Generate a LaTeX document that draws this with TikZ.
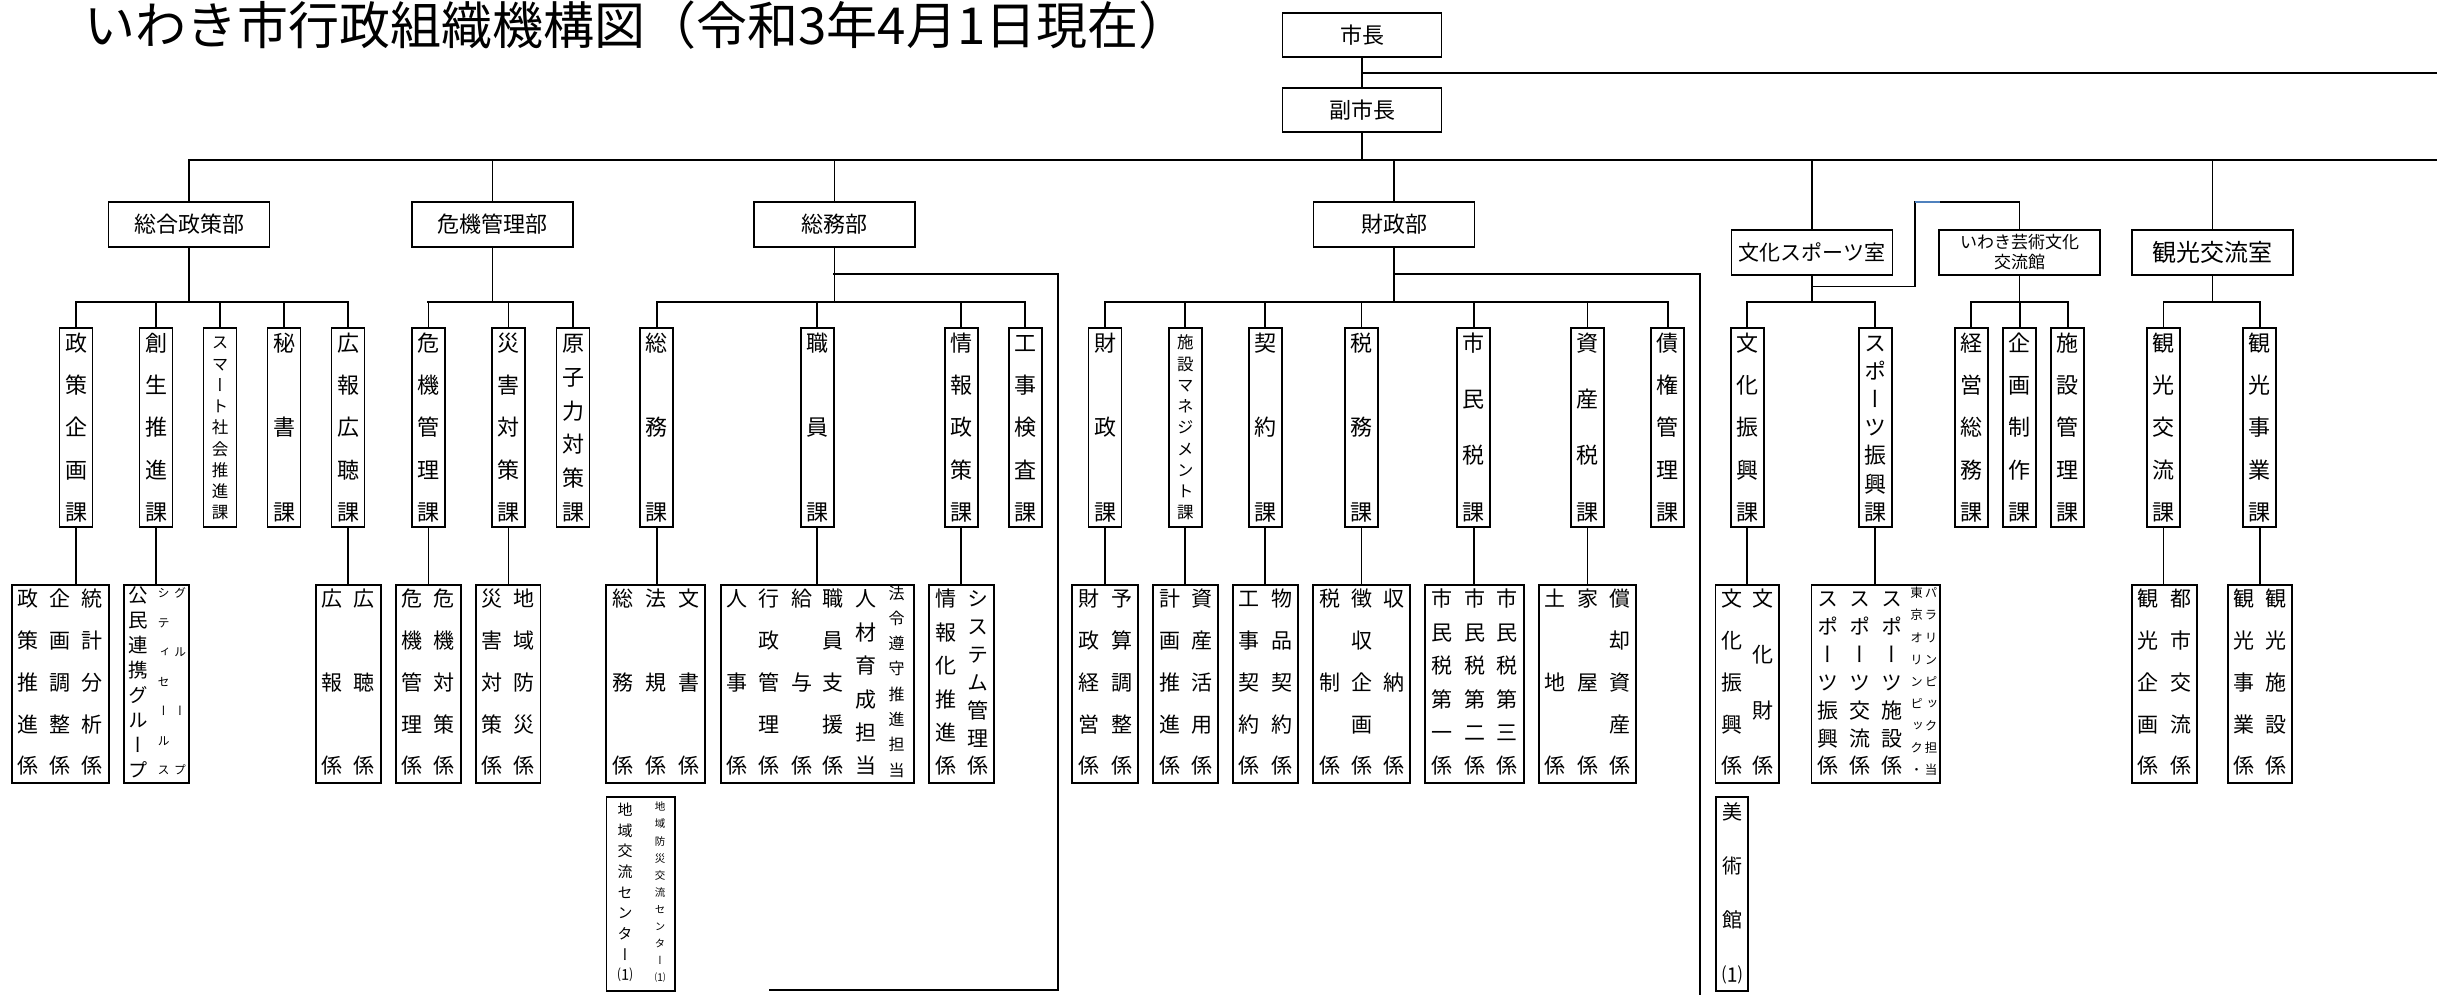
\documentclass[tikz,border=0pt]{standalone}
\usepackage{fontspec}
\setmainfont{Noto Sans CJK JP}
\newfontfamily\vfont[RawFeature=+vert]{Noto Sans CJK JP}
\definecolor{selblue}{RGB}{79,129,189}
% vertical column of characters, evenly distributed over a span (pt) between first and last centres
\newcommand\vcol[2][167]{\vbox to \dimexpr#1pt+0.88em\relax{\offinterlineskip\foreach \c [count=\i] in {#2}{\ifnum\i>1 \vfill\fi\hbox to 1em{\hss\vrule width0pt height0.88em depth0.12em\smash{\c}\hss}}}}
\newcommand\vk[1]{\vcol[168.6]{#1}}
\newcommand\kbox[3]{\node[bx, minimum width={#3-#2}, minimum height=198] (#1) at ({(#2+#3)/2},684) {};}
\newcommand\xbox[5]{\node[bx, minimum width={#3-#2}, minimum height={#5-#4}] (#1) at ({(#2+#3)/2},{(#4+#5)/2}) {};}
\begin{document}
\begin{tikzpicture}[x=1pt,y=-1pt,
  bx/.style={draw, line width=1.8pt, inner sep=0pt},
  dept/.style={bx, minimum width=161pt, minimum height=45pt, font=\fontsize{22}{24}\selectfont},
  ka/.style={bx, minimum width=33pt, minimum height=199pt, font=\vfont\fontsize{22}{22}\selectfont},
  kas/.style={ka, font=\vfont\fontsize{16.5}{16.5}\selectfont},
  col/.style={inner sep=0pt, font=\vfont\fontsize{21}{21}\selectfont},
  cols/.style={inner sep=0pt, font=\vfont\fontsize{12}{12}\selectfont},
  ln/.style={line width=1.7pt, line cap=rect},
  hb/.style={line width=2.2pt, line cap=rect}]
\useasboundingbox (0,0) rectangle (2437,994);

% title
\node[font=\fontsize{51}{51}\selectfont, inner sep=0pt] (title) at (637,25) {いわき市行政組織機構図（令和3年4月1日現在）};

% top
\node[dept, minimum width=159pt, minimum height=44pt] (mayor) at (1362,34.7) {市長};
\node[dept, minimum width=159pt, minimum height=44pt] (vmayor) at (1362,110.3) {副市長};

% departments
\node[dept] (d1) at (189,224.5) {総合政策部};
\node[dept] (d2) at (492.5,224.5) {危機管理部};
\node[dept] (d3) at (834.5,224.5) {総務部};
\node[dept] (d4) at (1394,224.5) {財政部};
\node[dept, font=\fontsize{21}{22}\selectfont] (d5) at (1812,252.5) {文化スポーツ室};
\node[dept, font=\fontsize{17}{20}\selectfont, align=center] (d6) at (2019.5,252.5) {いわき芸術文化\\交流館};
\node[dept, font=\fontsize{24}{24}\selectfont] (d7) at (2212.5,252.5) {観光交流室};

% sections (課)
\node[ka] (k11) at (76,427.5) {\vk{政,策,企,画,課}};
\node[ka] (k12) at (156,427.5) {\vk{創,生,推,進,課}};
\node[kas] (k13) at (220,427.5) {\vcol[170]{ス,マ,ー,ト,社,会,推,進,課}};
\node[ka] (k14) at (284,427.5) {\vk{秘,書,課}};
\node[ka] (k15) at (348,427.5) {\vk{広,報,広,聴,課}};
\node[ka] (k21) at (428.5,427.5) {\vk{危,機,管,理,課}};
\node[ka] (k22) at (508.5,427.5) {\vk{災,害,対,策,課}};
\node[ka] (k23) at (573,427.5) {\vk{原,子,力,対,策,課}};
\node[ka] (k31) at (656.8,427.5) {\vk{総,務,課}};
\node[ka] (k32) at (817.3,427.5) {\vk{職,員,課}};
\node[ka] (k33) at (961.3,427.5) {\vk{情,報,政,策,課}};
\node[ka] (k34) at (1025.3,427.5) {\vk{工,事,検,査,課}};
\node[ka] (k41) at (1105,427.5) {\vk{財,政,課}};
\node[kas] (k42) at (1185.3,427.5) {\vcol[170]{施,設,マ,ネ,ジ,メ,ン,ト,課}};
\node[ka] (k43) at (1265.3,427.5) {\vk{契,約,課}};
\node[ka] (k44) at (1361.5,427.5) {\vk{税,務,課}};
\node[ka] (k45) at (1473.7,427.5) {\vk{市,民,税,課}};
\node[ka] (k46) at (1587.5,427.5) {\vk{資,産,税,課}};
\node[ka] (k47) at (1667.7,427.5) {\vk{債,権,管,理,課}};
\node[ka] (k51) at (1747.2,427.5) {\vk{文,化,振,興,課}};
\node[ka] (k52) at (1875.3,427.5) {\vk{ス,ポ,ー,ツ,振,興,課}};
\node[ka] (k61) at (1971.3,427.5) {\vk{経,営,総,務,課}};
\node[ka] (k62) at (2019.8,427.5) {\vk{企,画,制,作,課}};
\node[ka] (k63) at (2067.7,427.5) {\vk{施,設,管,理,課}};
\node[ka] (k71) at (2163.6,427.5) {\vk{観,光,交,流,課}};
\node[ka] (k72) at (2259.8,427.5) {\vk{観,光,事,業,課}};

% sub-sections (係) boxes
\kbox{kk11}{11.9}{108.7}
\kbox{kk12}{123.8}{188.6}
\kbox{kk15}{316}{381}
\kbox{kk21}{396}{461}
\kbox{kk22}{476}{540.5}
\kbox{kk31}{605.7}{705}
\kbox{kk32}{721}{914}
\kbox{kk33}{929}{994}
\kbox{kk41}{1072}{1138}
\kbox{kk42}{1153}{1218}
\kbox{kk43}{1232.6}{1298}
\kbox{kk44}{1313}{1410}
\kbox{kk45}{1425}{1523.7}
\kbox{kk46}{1538.8}{1636}
\kbox{kk51}{1715.5}{1779}
\kbox{kk52}{1811.4}{1939.7}
\kbox{kk71}{2132}{2196.7}
\kbox{kk72}{2227.7}{2292}
\xbox{chiiki}{606.5}{675}{797}{991}
\xbox{bijutsu}{1715.6}{1748}{797}{991}

% sub-section texts
\node[col] (kk11a) at (27.9,682.5) {\vcol{政,策,推,進,係}};
\node[col] (kk11b) at (59.9,682.5) {\vcol{企,画,調,整,係}};
\node[col] (kk11c) at (91.9,682.5) {\vcol{統,計,分,析,係}};
\node[col, font=\vfont\fontsize{19.5}{19.5}\selectfont] (kk12a) at (138,682.5) {\vcol[175]{公,民,連,携,グ,ル,ー,プ}};
\node[cols] (kk12b) at (163.5,681.5) {\vcol[177]{シ,テ,ィ,セ,ー,ル,ス}};
\node[cols] (kk12c) at (180,681.5) {\vcol[177]{グ,ル,ー,プ}};
\node[col] (kk15a) at (332,682.5) {\vcol{広,報,係}};
\node[col] (kk15b) at (364,682.5) {\vcol{広,聴,係}};
\node[col] (kk21a) at (412,682.5) {\vcol{危,機,管,理,係}};
\node[col] (kk21b) at (444,682.5) {\vcol{危,機,対,策,係}};
\node[col] (kk22a) at (492,682.5) {\vcol{災,害,対,策,係}};
\node[col] (kk22b) at (524,682.5) {\vcol{地,域,防,災,係}};
\node[col] (kk31a) at (622.5,682.5) {\vcol{総,務,係}};
\node[col] (kk31b) at (655.5,682.5) {\vcol{法,規,係}};
\node[col] (kk31c) at (688.5,682.5) {\vcol{文,書,係}};
\node[col] (kk32a) at (737,682.5) {\vcol{人,事,係}};
\node[col] (kk32b) at (769,682.5) {\vcol{行,政,管,理,係}};
\node[col] (kk32c) at (801.5,682.5) {\vcol{給,与,係}};
\node[col] (kk32d) at (833,682.5) {\vcol{職,員,支,援,係}};
\node[col] (kk32e) at (866,682.5) {\vcol{人,材,育,成,担,当}};
\node[col, font=\vfont\fontsize{16}{16}\selectfont] (kk32f) at (896.7,681.5) {\vcol[177]{法,令,遵,守,推,進,担,当}};
\node[col] (kk33a) at (946,682.5) {\vcol{情,報,化,推,進,係}};
\node[col] (kk33b) at (978.3,682.5) {\vcol{シ,ス,テ,ム,管,理,係}};
\node[col] (kk41a) at (1088.5,682.5) {\vcol{財,政,経,営,係}};
\node[col] (kk41b) at (1121.5,682.5) {\vcol{予,算,調,整,係}};
\node[col] (kk42a) at (1169.5,682.5) {\vcol{計,画,推,進,係}};
\node[col] (kk42b) at (1201.5,682.5) {\vcol{資,産,活,用,係}};
\node[col] (kk43a) at (1249,682.5) {\vcol{工,事,契,約,係}};
\node[col] (kk43b) at (1281.5,682.5) {\vcol{物,品,契,約,係}};
\node[col] (kk44a) at (1329.5,682.5) {\vcol{税,制,係}};
\node[col] (kk44b) at (1361.5,682.5) {\vcol{徴,収,企,画,係}};
\node[col] (kk44c) at (1393.5,682.5) {\vcol{収,納,係}};
\node[col] (kk45a) at (1441.5,682.5) {\vcol{市,民,税,第,一,係}};
\node[col] (kk45b) at (1474.5,682.5) {\vcol{市,民,税,第,二,係}};
\node[col] (kk45c) at (1507,682.5) {\vcol{市,民,税,第,三,係}};
\node[col] (kk46a) at (1555,682.5) {\vcol{土,地,係}};
\node[col] (kk46b) at (1587.5,682.5) {\vcol{家,屋,係}};
\node[col] (kk46c) at (1620,682.5) {\vcol{償,却,資,産,係}};
\node[col] (kk51a) at (1731.5,682.5) {\vcol{文,化,振,興,係}};
\node[col] (kk51b) at (1763,682.5) {\vcol{文,化,財,係}};
\node[col] (kk52a) at (1827.5,682.5) {\vcol{ス,ポ,ー,ツ,振,興,係}};
\node[col] (kk52b) at (1859.5,682.5) {\vcol{ス,ポ,ー,ツ,交,流,係}};
\node[col] (kk52c) at (1891.5,682.5) {\vcol{ス,ポ,ー,ツ,施,設,係}};
\node[cols, font=\vfont\fontsize{12.5}{12.5}\selectfont] (kk52d) at (1916.5,681.5) {\vcol[177]{東,京,オ,リ,ン,ピ,ッ,ク,・}};
\node[cols, font=\vfont\fontsize{12.5}{12.5}\selectfont] (kk52e) at (1931,681.5) {\vcol[177]{パ,ラ,リ,ン,ピ,ッ,ク,担,当}};
\node[col] (kk71a) at (2148,682.5) {\vcol{観,光,企,画,係}};
\node[col] (kk71b) at (2180.5,682.5) {\vcol{都,市,交,流,係}};
\node[col] (kk72a) at (2244,682.5) {\vcol{観,光,事,業,係}};
\node[col] (kk72b) at (2276,682.5) {\vcol{観,光,施,設,係}};
\node[col, font=\vfont\fontsize{15}{15}\selectfont] (chiikia) at (625,892.5) {\vcol[165]{地,域,交,流,セ,ン,タ,ー,⑴}};
\node[col, font=\vfont\fontsize{10.5}{10.5}\selectfont] (chiikib) at (660,892.3) {\vcol[171]{地,域,防,災,交,流,セ,ン,タ,ー,⑴}};
\node[col, font=\vfont\fontsize{20}{20}\selectfont] (bijutsua) at (1732,893) {\vcol[163]{美,術,館,⑴}};

% connectors: top
\coordinate (mR) at (2437,72.7);
\coordinate (bR) at (2437,160);
\draw[ln] (mayor.south) -- (vmayor.north);
\draw[hb] (mayor.south |- mR) -- (mR);
\draw[ln] (vmayor.south) -- (vmayor.south |- bR);
\draw[hb] (d1.north |- bR) -- (bR);
\foreach \d in {d1,d2,d3,d4,d5,d7} \draw[ln] (\d.north |- bR) -- (\d.north);

% department -> section bars
\coordinate (sb) at (0,302);
\foreach \d/\a/\b in {d1/k11/k15, d2/k21/k23, d3/k31/k34, d4/k41/k47, d5/k51/k52, d6/k61/k63, d7/k71/k72} {
  \draw[ln] (\d.south) -- (\d.south |- sb);
  \draw[hb] (\a.north |- sb) -- (\b.north |- sb);
}
\foreach \k in {k11,k12,k13,k14,k15,k21,k22,k23,k31,k32,k33,k34,k41,k42,k43,k44,k45,k46,k47,k51,k52,k61,k62,k63,k71,k72}
  \draw[ln] (\k.north |- sb) -- (\k.north);

% section -> sub-section
\foreach \k/\kk in {k11/kk11, k12/kk12, k15/kk15, k21/kk21, k22/kk22, k31/kk31, k32/kk32, k33/kk33, k41/kk41, k42/kk42, k43/kk43, k44/kk44, k45/kk45, k46/kk46, k51/kk51, k52/kk52, k71/kk71, k72/kk72}
  \draw[ln] (\k.south) -- (\k.south |- \kk.north);

% extra routes
\coordinate (r3a) at (1058,274);
\coordinate (r3b) at (1058,990);
\coordinate (r3c) at (770,990);
\draw[hb] (d3.south |- r3a) -- (r3a);
\draw[ln] (r3a) -- (r3b);
\draw[hb] (r3b) -- (r3c);
\coordinate (r4a) at (1700,274);
\coordinate (r4b) at (1700,994);
\draw[hb] (d4.south |- r4a) -- (r4a);
\draw[ln] (r4a) -- (r4b);
\coordinate (r5a) at (1915,286.5);
\coordinate (r5b) at (1915,202);
\coordinate (r5c) at (1940,202);
\draw[ln] (d5.south |- r5a) -- (r5a) -- (r5b) -- (d6.north |- r5b) -- (d6.north);
\draw[line width=2.2pt, selblue] (r5b) -- (r5c);
\end{tikzpicture}
\end{document}
